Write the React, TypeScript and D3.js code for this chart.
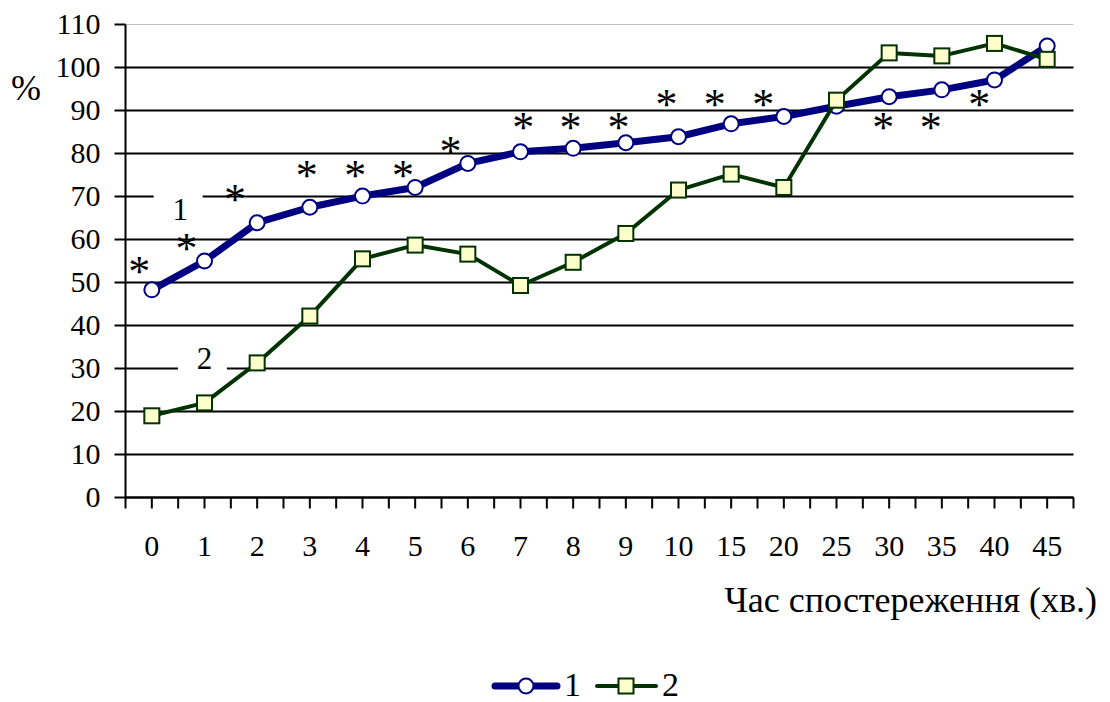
import React from "react";
import * as d3 from "d3";

const categories = ["0", "1", "2", "3", "4", "5", "6", "7", "8", "9", "10", "15", "20", "25", "30", "35", "40", "45"];
const series1 = [48.3, 55.0, 63.9, 67.5, 70.1, 72.1, 77.7, 80.4, 81.2, 82.5, 83.9, 86.9, 88.6, 91.0, 93.2, 94.8, 97.1, 105.0];
const series2 = [19.0, 22.0, 31.3, 42.2, 55.5, 58.7, 56.6, 49.3, 54.7, 61.4, 71.5, 75.2, 72.1, 92.4, 103.4, 102.7, 105.6, 101.9];
const yTicks = [0, 10, 20, 30, 40, 50, 60, 70, 80, 90, 100, 110];
// significance marks: fractional category position, value level
const starPos = [-0.24, 0.66, 1.58, 2.94, 3.86, 4.77, 5.67, 7.05, 7.95, 8.86, 9.77, 10.69, 11.61, 13.89, 14.79, 15.71];
const starVal = [54.1, 59.3, 70.7, 76.4, 76.4, 76.4, 82.0, 87.4, 87.4, 87.4, 92.8, 92.8, 92.8, 87.4, 87.4, 92.8];
const seriesNames = ["1", "2"];
// in-plot series labels: position on category axis, value
const labelPos = [1.0, 1.46];
const labelVal = [66.8, 32.3];

const W = 1110, H = 702;
const L = 125.5, R = 1073.5, T = 24.5, B = 497.5;
const FONT = "\"Liberation Serif\"";
const NAVY = "#000080";
const GREEN = "#003300";
const SQFILL = "#ffffcc";

export default function App() {
  const x = d3.scaleBand<string>().domain(categories).range([L, R]).padding(0);
  const xf = d3.scaleLinear().domain([0, categories.length]).range([L, R]);
  const y = d3.scaleLinear().domain([0, 110]).range([B, T]);
  const cx = (c: string) => (x(c) as number) + x.bandwidth() / 2;
  const line = d3.line<[number, number]>().x(d => d[0]).y(d => d[1]);
  const p1: [number, number][] = categories.map((c, i) => [cx(c), y(series1[i])]);
  const p2: [number, number][] = categories.map((c, i) => [cx(c), y(series2[i])]);
  const halfTicks = d3.range(0, categories.length * 2 + 1).map(k => xf(k / 2));
  const sq = 15;
  const tf = { fontFamily: FONT };

  return (
    <svg width={W} height={H} style={{ position: "absolute", left: 0, top: 0, background: "#fff", fontFamily: FONT }}>
      {/* gridlines */}
      {yTicks.map(t => (
        <line key={"g" + t} x1={L} x2={R} y1={y(t)} y2={y(t)}
          stroke={t === 110 ? "#c0c0c0" : "#000"} strokeWidth={t === 110 ? 1.2 : 2} />
      ))}
      {/* y ticks and labels */}
      {yTicks.map(t => (
        <g key={"yt" + t}>
          <line x1={L - 11} x2={L} y1={y(t)} y2={y(t)} stroke="#000" strokeWidth={2} />
          <text x={L - 25} y={y(t)} dy="0.33em" textAnchor="end" fontSize={30} style={tf}>{t}</text>
        </g>
      ))}
      {/* axes */}
      <line x1={L} x2={L} y1={T} y2={B} stroke="#000" strokeWidth={2} />
      <line x1={L} x2={R} y1={B} y2={B} stroke="#000" strokeWidth={2} />
      {halfTicks.map((px, k) => (
        <line key={"xt" + k} x1={px} x2={px} y1={B} y2={B + 11} stroke="#000" strokeWidth={2} />
      ))}
      {categories.map(c => (
        <text key={"xl" + c} x={cx(c)} y={556} textAnchor="middle" fontSize={30} style={tf}>{c}</text>
      ))}
      <text x={1097} y={612} textAnchor="end" fontSize={36} style={tf}>Час спостереження (хв.)</text>
      <text x={26} y={100} textAnchor="middle" fontSize={36} style={tf}>%</text>

      {/* in-plot series labels with white boxes */}
      {seriesNames.map((n, i) => {
        const lx = xf(labelPos[i]);
        const ly = y(labelVal[i]);
        return (
          <g key={"lab" + n}>
            <rect x={lx - 24.5} y={ly - 26} width={49} height={46} fill="#fff" />
            <text x={lx + 2} y={ly} dy="0.33em" textAnchor="middle" fontSize={31} style={tf}>{n}</text>
          </g>
        );
      })}

      {/* series 1 */}
      <path d={line(p1) as string} fill="none" stroke={NAVY} strokeWidth={7} strokeLinejoin="round" />
      {p1.map((p, i) => (
        <circle key={"c" + i} cx={p[0]} cy={p[1]} r={7.5} fill="#fff" stroke={NAVY} strokeWidth={2} />
      ))}
      {/* series 2 */}
      <path d={line(p2) as string} fill="none" stroke={GREEN} strokeWidth={4} strokeLinejoin="round" />
      {p2.map((p, i) => (
        <rect key={"s" + i} x={p[0] - sq / 2} y={p[1] - sq / 2} width={sq} height={sq} fill={SQFILL} stroke={GREEN} strokeWidth={2} />
      ))}

      {/* significance marks */}
      {starPos.map((s, i) => (
        <text key={"st" + i} x={xf(s + 0.5)} y={y(starVal[i])} dy="0.47em" textAnchor="middle" fontSize={44} style={tf}>*</text>
      ))}

      {/* legend */}
      <g>
        <line x1={495} x2={557} y1={686} y2={686} stroke={NAVY} strokeWidth={7} strokeLinecap="round" />
        <circle cx={526} cy={686} r={7.5} fill="#fff" stroke={NAVY} strokeWidth={2} />
        <text x={564} y={696} fontSize={34} style={tf}>{seriesNames[0]}</text>
        <line x1={597} x2={656} y1={686} y2={686} stroke={GREEN} strokeWidth={4} strokeLinecap="round" />
        <rect x={626 - sq / 2} y={686 - sq / 2} width={sq} height={sq} fill={SQFILL} stroke={GREEN} strokeWidth={2} />
        <text x={662} y={696} fontSize={34} style={tf}>{seriesNames[1]}</text>
      </g>
    </svg>
  );
}
